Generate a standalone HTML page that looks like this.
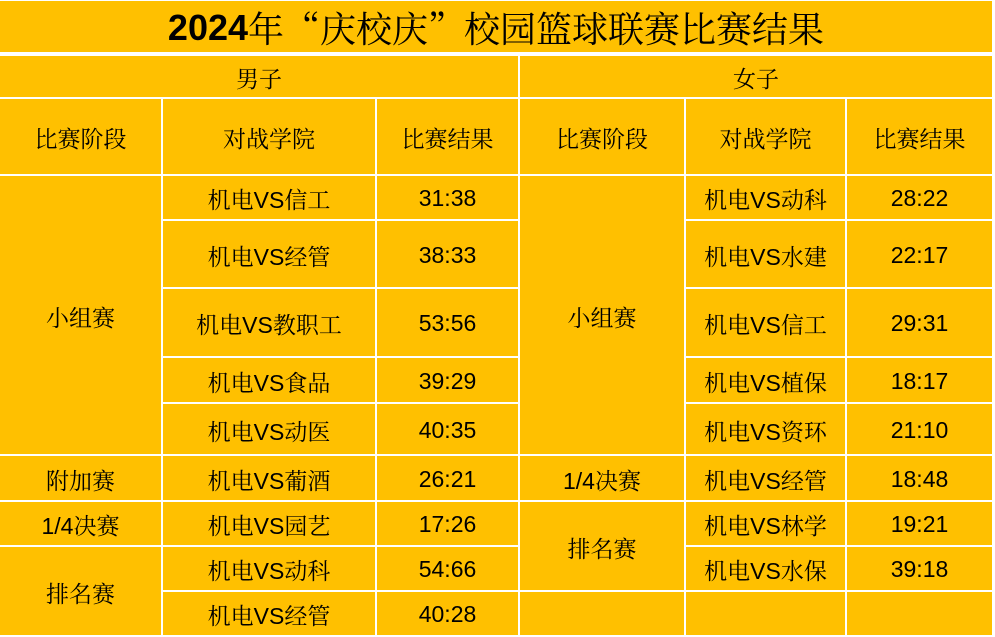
<!DOCTYPE html>
<html><head><meta charset="utf-8"><style>
body{margin:0;width:995px;height:637px;background:#fff;position:relative;overflow:hidden;font-family:"Liberation Sans","Noto Serif CJK SC",serif;}
.c{position:absolute;background:#FFC000;display:flex;align-items:center;justify-content:center;font-size:23px;color:#000;padding-top:2px;box-sizing:border-box;}
.t{font-size:36px;}
.t b{font-family:"Liberation Sans",sans-serif;font-weight:bold;}
.q{font-family:"Noto Serif CJK SC",serif;}
</style></head><body>
<div class="c t" style="left:0;top:1px;width:992px;height:51px"><b>2024</b>年<span class="q">“庆校庆”</span>校园篮球联赛比赛结果</div>
<div class="c" style="left:0;top:56px;width:518px;height:41px">男子</div>
<div class="c" style="left:520px;top:56px;width:472px;height:41px">女子</div>
<div class="c" style="left:0;top:99px;width:161px;height:75px">比赛阶段</div>
<div class="c" style="left:163px;top:99px;width:212px;height:75px">对战学院</div>
<div class="c" style="left:377px;top:99px;width:141px;height:75px">比赛结果</div>
<div class="c" style="left:520px;top:99px;width:164px;height:75px">比赛阶段</div>
<div class="c" style="left:686px;top:99px;width:159px;height:75px">对战学院</div>
<div class="c" style="left:847px;top:99px;width:145px;height:75px">比赛结果</div>

<div class="c" style="left:0;top:176px;width:161px;height:278px">小组赛</div>
<div class="c" style="left:0;top:456px;width:161px;height:44px">附加赛</div>
<div class="c" style="left:0;top:502px;width:161px;height:43px">1/4决赛</div>
<div class="c" style="left:0;top:547px;width:161px;height:88px">排名赛</div>

<div class="c" style="left:520px;top:176px;width:164px;height:278px">小组赛</div>
<div class="c" style="left:520px;top:456px;width:164px;height:44px">1/4决赛</div>
<div class="c" style="left:520px;top:502px;width:164px;height:88px">排名赛</div>
<div class="c" style="left:520px;top:592px;width:164px;height:43px"></div>

<div class="c" style="left:163px;top:176px;width:212px;height:43px">机电VS信工</div>
<div class="c" style="left:377px;top:176px;width:141px;height:43px">31:38</div>
<div class="c" style="left:163px;top:221px;width:212px;height:66px">机电VS经管</div>
<div class="c" style="left:377px;top:221px;width:141px;height:66px">38:33</div>
<div class="c" style="left:163px;top:289px;width:212px;height:67px">机电VS教职工</div>
<div class="c" style="left:377px;top:289px;width:141px;height:67px">53:56</div>
<div class="c" style="left:163px;top:358px;width:212px;height:44px">机电VS食品</div>
<div class="c" style="left:377px;top:358px;width:141px;height:44px">39:29</div>
<div class="c" style="left:163px;top:404px;width:212px;height:50px">机电VS动医</div>
<div class="c" style="left:377px;top:404px;width:141px;height:50px">40:35</div>
<div class="c" style="left:163px;top:456px;width:212px;height:44px">机电VS葡酒</div>
<div class="c" style="left:377px;top:456px;width:141px;height:44px">26:21</div>
<div class="c" style="left:163px;top:502px;width:212px;height:43px">机电VS园艺</div>
<div class="c" style="left:377px;top:502px;width:141px;height:43px">17:26</div>
<div class="c" style="left:163px;top:547px;width:212px;height:43px">机电VS动科</div>
<div class="c" style="left:377px;top:547px;width:141px;height:43px">54:66</div>
<div class="c" style="left:163px;top:592px;width:212px;height:43px">机电VS经管</div>
<div class="c" style="left:377px;top:592px;width:141px;height:43px">40:28</div>

<div class="c" style="left:686px;top:176px;width:159px;height:43px">机电VS动科</div>
<div class="c" style="left:847px;top:176px;width:145px;height:43px">28:22</div>
<div class="c" style="left:686px;top:221px;width:159px;height:66px">机电VS水建</div>
<div class="c" style="left:847px;top:221px;width:145px;height:66px">22:17</div>
<div class="c" style="left:686px;top:289px;width:159px;height:67px">机电VS信工</div>
<div class="c" style="left:847px;top:289px;width:145px;height:67px">29:31</div>
<div class="c" style="left:686px;top:358px;width:159px;height:44px">机电VS植保</div>
<div class="c" style="left:847px;top:358px;width:145px;height:44px">18:17</div>
<div class="c" style="left:686px;top:404px;width:159px;height:50px">机电VS资环</div>
<div class="c" style="left:847px;top:404px;width:145px;height:50px">21:10</div>
<div class="c" style="left:686px;top:456px;width:159px;height:44px">机电VS经管</div>
<div class="c" style="left:847px;top:456px;width:145px;height:44px">18:48</div>
<div class="c" style="left:686px;top:502px;width:159px;height:43px">机电VS林学</div>
<div class="c" style="left:847px;top:502px;width:145px;height:43px">19:21</div>
<div class="c" style="left:686px;top:547px;width:159px;height:43px">机电VS水保</div>
<div class="c" style="left:847px;top:547px;width:145px;height:43px">39:18</div>
<div class="c" style="left:686px;top:592px;width:159px;height:43px"></div>
<div class="c" style="left:847px;top:592px;width:145px;height:43px"></div>
</body></html>
